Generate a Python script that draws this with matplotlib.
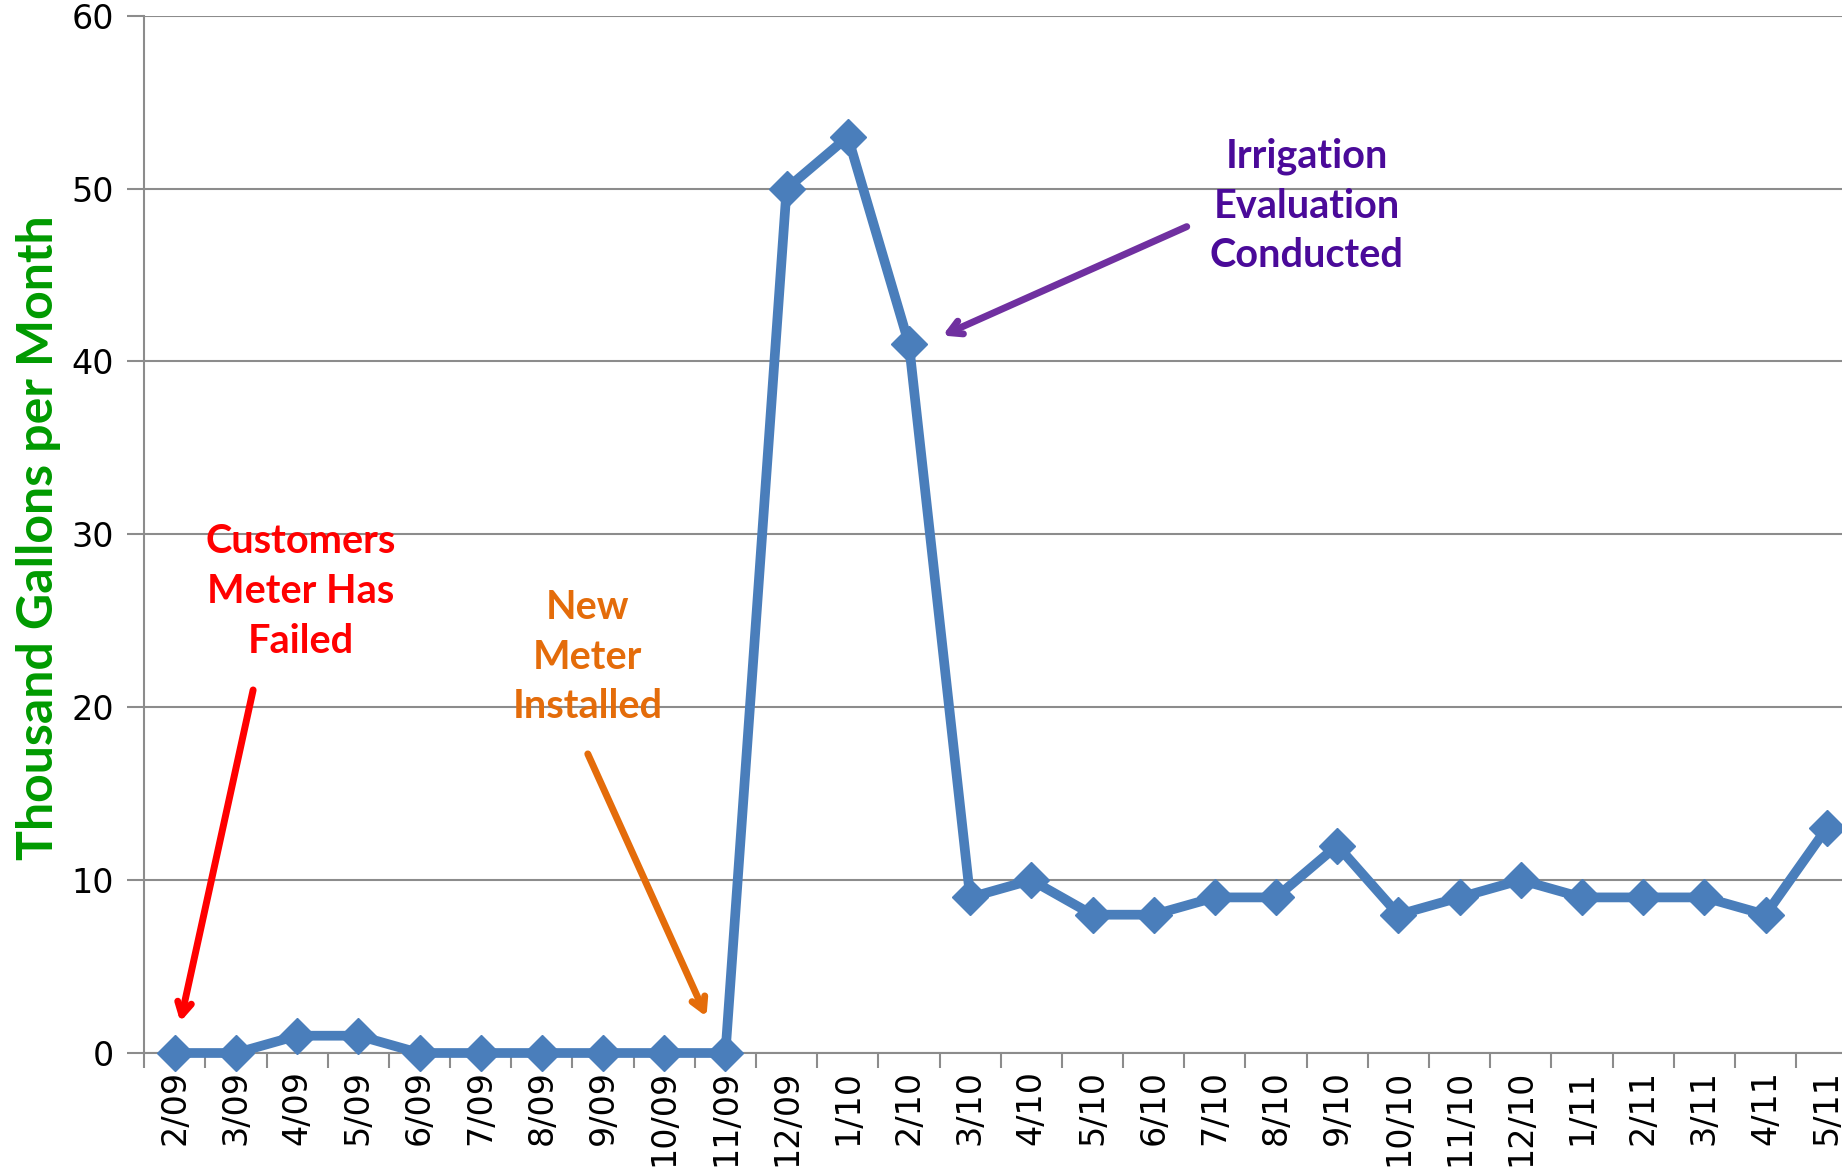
import matplotlib.pyplot as plt
import numpy as np

months = ["2/09", "3/09", "4/09", "5/09", "6/09", "7/09", "8/09", "9/09", "10/09",
          "11/09", "12/09", "1/10", "2/10", "3/10", "4/10", "5/10", "6/10", "7/10",
          "8/10", "9/10", "10/10", "11/10", "12/10", "1/11", "2/11", "3/11", "4/11", "5/11"]
gallons = [0, 0, 1, 1, 0, 0, 0, 0, 0, 0, 50, 53, 41, 9, 10, 8, 8, 9, 9, 12,
           8, 9, 10, 9, 9, 9, 8, 13]

grid_c = "#8c8c8c"
x = np.arange(len(months))

fig = plt.figure(figsize=(18.42, 11.73), dpi=100)
# axes runs a bit past the right edge, as in the original screenshot
ax = fig.add_axes([0.0783, 0.1023, 0.93, 0.8843])

ax.plot(x, gallons, color="#4A7EBB", lw=7, marker="D", ms=18,
        markeredgecolor="#4A7EBB", zorder=3, clip_on=False)

ax.set_xlim(-0.5, len(months) - 0.5)
ax.set_ylim(0, 60)
ax.set_yticks(range(0, 61, 10))
ax.set_xticks(x)
ax.set_xticklabels(months, rotation=90, fontsize=24)
ax.set_xticks(np.arange(-0.5, len(months), 1), minor=True)
ax.tick_params(axis="x", which="major", length=0, pad=12)
ax.tick_params(axis="x", which="minor", length=11, color=grid_c, width=1.5)
ax.tick_params(axis="y", length=12, color=grid_c, width=1.5, labelsize=24, pad=10)

ax.grid(axis="y", color=grid_c, lw=1.5)
ax.set_axisbelow(True)
for s in ["top", "right"]:
    ax.spines[s].set_visible(False)
ax.spines["left"].set_color(grid_c)
ax.spines["bottom"].set_color(grid_c)
ax.spines["left"].set_linewidth(1.5)
ax.spines["bottom"].set_linewidth(1.5)

fig.text(0.021, 0.542, "Thousand Gallons per Month", rotation=90, ha="center",
         va="center", color="#009A00", fontsize=36, fontweight="bold", family="Lato")

notes = [
    ("Customers\nMeter Has\nFailed", "#FF0000", (2.06, 26.7), (1.28, 21.0), (0.09, 1.8)),
    ("New\nMeter\nInstalled", "#E46C0A", (6.75, 22.9), (6.75, 17.3), (8.69, 2.1)),
    ("Irrigation\nEvaluation\nConducted", "#4A0A99", (18.5, 49.0), (16.54, 47.8), (12.55, 41.5)),
]
arrow_cols = ["#FF0000", "#E46C0A", "#7030A0"]
for (txt, col, tpos, start, end), acol in zip(notes, arrow_cols):
    ax.text(tpos[0], tpos[1], txt, color=col, ha="center", va="center",
            fontsize=28.5, fontweight="bold", family="Lato", linespacing=1.42)
    ax.annotate("", xy=end, xytext=start,
                arrowprops=dict(arrowstyle="->,head_length=0.9,head_width=0.5",
                                color=acol, lw=5, capstyle="round",
                                shrinkA=0, shrinkB=0))

fig.savefig("out.png", dpi=100)
